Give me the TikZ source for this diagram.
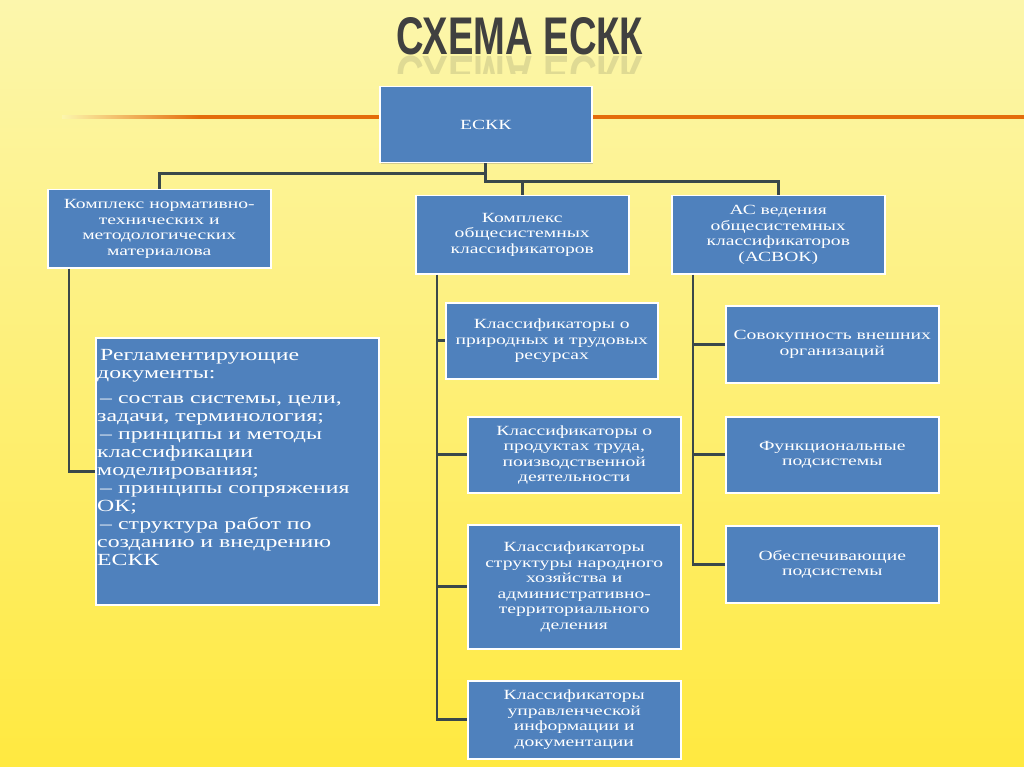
\documentclass[tikz,border=0pt]{standalone}
\usepackage{fontspec}
\setmainfont{Liberation Serif}
\newfontfamily\boxfont[FakeStretch=1.4]{Liberation Serif}
\newfontfamily\titlefont[FakeStretch=0.72]{Liberation Sans}
\usetikzlibrary{positioning,calc,shadows}

\definecolor{box_blue}{RGB}{79,129,189}
\definecolor{link_gray}{RGB}{58,72,74}
\definecolor{title_gray}{RGB}{64,64,64}
\definecolor{line_orange}{RGB}{228,108,10}
\definecolor{bg_light}{RGB}{252,246,172}
\definecolor{bg_deep}{RGB}{255,233,64}

\begin{document}
\begin{tikzpicture}[
    x=1pt, y=-1pt,
    box_style/.style={draw=white, line width=1.5pt, fill=box_blue, text=white, align=center, inner sep=2pt, anchor=north west,
        font={\boxfont\fontsize{14}{15.5}\selectfont}, drop shadow={shadow xshift=1pt, shadow yshift=-1pt, opacity=0.35}},
    link_style/.style={draw=link_gray, line width=2.6pt},
    title_style/.style={font={\titlefont\bfseries\fontsize{53}{53}\selectfont}, text=title_gray, anchor=base}
]
\useasboundingbox (0,0) rectangle (1024,767);
\shade[top color=bg_light, bottom color=bg_deep] (0,0) rectangle (1024,767);

\shade[left color=bg_light, right color=line_orange] (62,115.3) rectangle (200,118.7);
\fill[line_orange] (199.5,115.3) rectangle (1024,118.7);

\node[title_style] (title) at (520,55) {СХЕМА ЕСКК};
\begin{scope}
  \clip (380,56) rectangle (660,74);
  \node[title_style, opacity=0.15, yscale=-1] (title_mirror) at (520,57) {СХЕМА ЕСКК};
\end{scope}

\node[box_style, minimum width=212pt, minimum height=76pt] (eskk) at (379,86) {ЕСКК};
\node[box_style, minimum width=223pt, minimum height=78pt] (norm_mat) at (47,189) {Комплекс нормативно-\\технических и\\методологических\\материалова};
\node[box_style, minimum width=213pt, minimum height=78pt] (obsh_klass) at (415,195) {Комплекс\\общесистемных\\классификаторов};
\node[box_style, minimum width=213pt, minimum height=78pt] (asvok) at (671,195) {АС ведения\\общесистемных\\классификаторов\\(АСВОК)};

\node[box_style, minimum width=283pt, minimum height=267pt] (regl) at (95,337) {};
\node[anchor=north west, text=white, align=left, inner sep=0pt, font={\boxfont\fontsize{17}{18}\selectfont}] (regl_text) at (97,349)
  {\hspace*{3pt}Регламентирующие\\документы:\\[7pt]
   \hspace*{3pt}– состав системы, цели,\\задачи, терминология;\\
   \hspace*{3pt}– принципы и методы\\классификации\\моделирования;\\
   \hspace*{3pt}– принципы сопряжения\\ОК;\\
   \hspace*{3pt}– структура работ по\\созданию и внедрению\\ЕСКК};

\node[box_style, minimum width=212pt, minimum height=76pt] (nat_res) at (445,302) {Классификаторы о\\природных и трудовых\\ресурсах};
\node[box_style, minimum width=213pt, minimum height=76pt] (prod_trud) at (467,416) {Классификаторы о\\продуктах труда,\\поизводственной\\деятельности};
\node[box_style, minimum width=213pt, minimum height=124pt] (nar_hoz) at (467,524) {Классификаторы\\структуры народного\\хозяйства и\\административно-\\территориального\\деления};
\node[box_style, minimum width=213pt, minimum height=78pt] (upr_inf) at (467,680) {Классификаторы\\управленческой\\информации и\\документации};

\node[box_style, minimum width=213pt, minimum height=77pt] (vnesh_org) at (725,305) {Совокупность внешних\\организаций};
\node[box_style, minimum width=213pt, minimum height=76pt] (func_sub) at (725,416) {Функциональные\\подсистемы};
\node[box_style, minimum width=213pt, minimum height=77pt] (obesp_sub) at (725,525) {Обеспечивающие\\подсистемы};

\draw[link_style] (eskk.south) -- ++(0,10) -| (norm_mat.north);
\draw[link_style] (eskk.south) -- ++(0,18) coordinate (bus_right) -| (asvok.north);
\draw[link_style] (obsh_klass.north) -- (obsh_klass.north |- bus_right);

\coordinate (trunk_left) at ([xshift=22pt]norm_mat.south west);
\draw[link_style] (trunk_left) |- (regl.west);

\coordinate (trunk_mid) at ([xshift=22pt]obsh_klass.south west);
\draw[link_style] (trunk_mid) |- (upr_inf.west);
\foreach \b in {nat_res,prod_trud,nar_hoz}
  \draw[link_style] (trunk_mid |- \b.west) -- (\b.west);

\coordinate (trunk_right) at ([xshift=22pt]asvok.south west);
\draw[link_style] (trunk_right) |- (obesp_sub.west);
\foreach \b in {vnesh_org,func_sub}
  \draw[link_style] (trunk_right |- \b.west) -- (\b.west);

\end{tikzpicture}
\end{document}
